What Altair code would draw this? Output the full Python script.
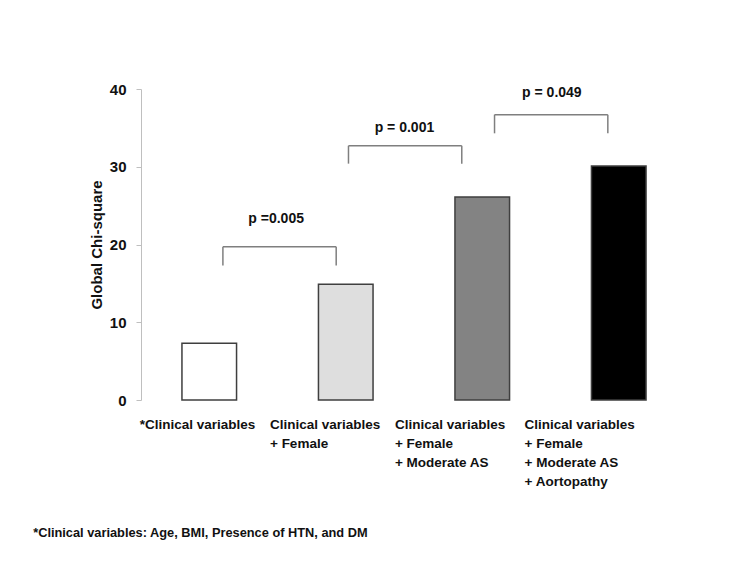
import altair as alt
import pandas as pd

# ---- data ----
categories = ["c1", "c2", "c3", "c4"]
label_lines = [
    ["*Clinical variables"],
    ["Clinical variables", "+ Female"],
    ["Clinical variables", "+ Female", "+ Moderate AS"],
    ["Clinical variables", "+ Female", "+ Moderate AS", "+ Aortopathy"],
]
chi_square = [7.3, 14.9, 26.1, 30.1]
bar_fill = ["#ffffff", "#dedede", "#838383", "#000000"]

# comparison brackets (x in category-slot units, y in chi-square units)
br_left = [0.60, 1.52, 2.59]
br_right = [1.43, 2.35, 3.42]
br_top = [19.7, 32.7, 36.7]
br_bottom = [17.3, 30.4, 34.3]
p_text = ["p =0.005", "p = 0.001", "p = 0.049"]
p_x = [0.99, 1.93, 3.01]
p_y = [23.3, 35.0, 39.5]

# category label anchors (left edge of text block)
lab_x = [-0.01, 0.945, 1.86, 2.81]
lab_y = -2.3

foot_text = "*Clinical variables: Age, BMI, Presence of HTN, and DM"
foot_x = -0.79
foot_y = -17.1

FONT = "Liberation Sans"
W, H = 546, 311

bars_df = pd.DataFrame({"cat": categories, "val": chi_square, "fill": bar_fill})
br_df = pd.DataFrame({"l": br_left, "r": br_right, "t": br_top, "b": br_bottom})
p_df = pd.DataFrame({"txt": p_text, "x": p_x, "y": p_y})
lab_df = pd.DataFrame({"txt": label_lines, "x": lab_x, "y": [lab_y] * 4})
foot_df = pd.DataFrame({"txt": [foot_text], "x": [foot_x], "y": [foot_y]})
tick_df = pd.DataFrame({"x": [0, 1, 2, 3, 4], "y": [0] * 5})

yscale = alt.Scale(domain=[0, 40], nice=False)
qx = alt.Scale(domain=[0, 4], nice=False, zero=False)

bars = alt.Chart(bars_df).mark_bar(
    stroke="#3f3f3f", strokeWidth=1.5
).encode(
    x=alt.X("cat:N", sort=categories, axis=None,
            scale=alt.Scale(paddingInner=0.6, paddingOuter=0.3)),
    y=alt.Y("val:Q", scale=yscale,
            axis=alt.Axis(title="Global Chi-square", values=[0, 10, 20, 30, 40],
                          grid=False, tickSize=5, tickColor="#bfbfbf",
                          domainColor="#bfbfbf", labelPadding=10,
                          labelFont=FONT, labelFontSize=15, labelFontWeight="bold",
                          labelColor="#111111", titleFont=FONT, titleFontSize=15,
                          titleFontWeight="bold", titleColor="#111111",
                          titlePadding=5)),
    fill=alt.Fill("fill:N", scale=None),
)

# x axis drawn on the slot scale: ticks at slot boundaries
xaxis = alt.Chart(tick_df).mark_point(opacity=0).encode(
    x=alt.X("x:Q", scale=qx,
            axis=alt.Axis(values=[0, 1, 2, 3, 4], labels=False, title=None,
                          grid=False, tickSize=6, tickColor="#bfbfbf",
                          domainColor="#bfbfbf")),
    y=alt.Y("y:Q", scale=yscale),
)

br_h = alt.Chart(br_df).mark_rule(color="#7f7f7f", strokeWidth=1.5).encode(
    x=alt.X("l:Q", scale=qx, axis=None), x2="r:Q",
    y=alt.Y("t:Q", scale=yscale),
)
br_l = alt.Chart(br_df).mark_rule(color="#7f7f7f", strokeWidth=1.5).encode(
    x=alt.X("l:Q", scale=qx, axis=None),
    y=alt.Y("t:Q", scale=yscale), y2="b:Q",
)
br_r = alt.Chart(br_df).mark_rule(color="#7f7f7f", strokeWidth=1.5).encode(
    x=alt.X("r:Q", scale=qx, axis=None),
    y=alt.Y("t:Q", scale=yscale), y2="b:Q",
)

ptxt = alt.Chart(p_df).mark_text(
    font=FONT, fontSize=14, fontWeight="bold", color="#111111", baseline="middle"
).encode(
    x=alt.X("x:Q", scale=qx, axis=None),
    y=alt.Y("y:Q", scale=yscale),
    text="txt:N",
)

labs = alt.Chart(lab_df).mark_text(
    font=FONT, fontSize=13.5, fontWeight="bold", color="#111111",
    align="left", baseline="top", lineHeight=19
).encode(
    x=alt.X("x:Q", scale=qx, axis=None),
    y=alt.Y("y:Q", scale=yscale),
    text="txt",
)

foot = alt.Chart(foot_df).mark_text(
    font=FONT, fontSize=12.8, fontWeight="bold", color="#111111",
    align="left", baseline="middle"
).encode(
    x=alt.X("x:Q", scale=qx, axis=None),
    y=alt.Y("y:Q", scale=yscale),
    text="txt:N",
)

annot = alt.layer(xaxis, br_h, br_l, br_r, ptxt, labs, foot)

chart = alt.layer(bars, annot).resolve_scale(x="independent").properties(
    width=W, height=H,
    autosize=alt.AutoSizeParams(type="none"),
    padding={"left": 133, "top": 81, "right": 50, "bottom": 150},
).configure(background="white").configure_view(stroke=None)

chart.save("out.html", embed_options={"renderer": "svg", "actions": False})
